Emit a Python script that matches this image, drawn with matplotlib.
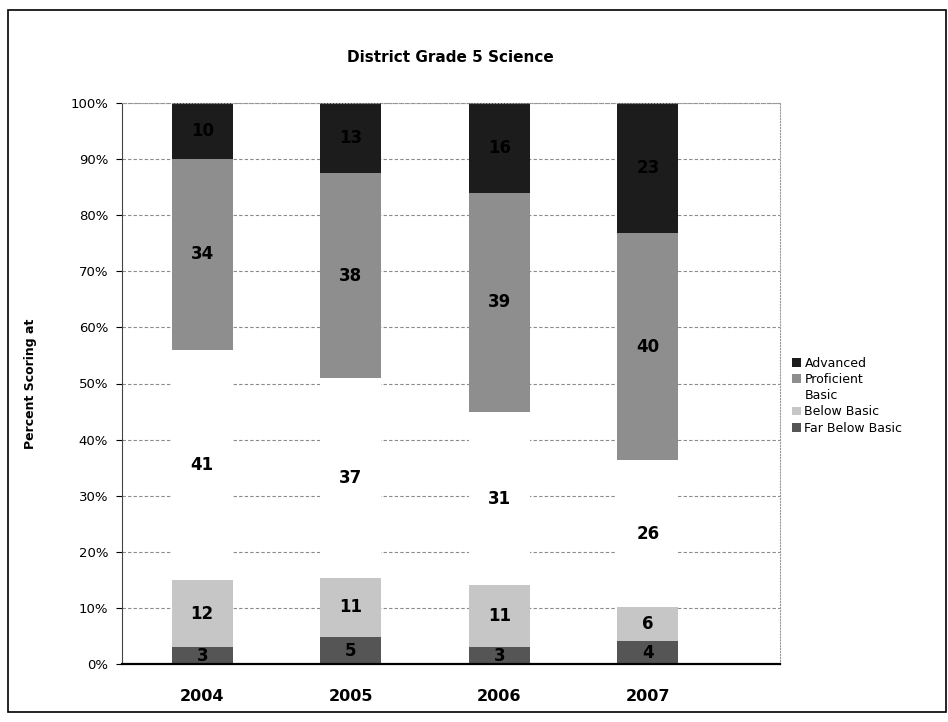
"""District Grade 5 Science: 100% stacked columns of performance levels by year."""
import matplotlib.pyplot as plt
import numpy as np
from matplotlib.patches import Rectangle

years = ["2004", "2005", "2006", "2007"]
levels = ["Far Below Basic", "Below Basic", "Basic", "Proficient", "Advanced"]
far_below_basic = [3, 5, 3, 4]
below_basic = [12, 11, 11, 6]
basic = [41, 37, 31, 26]
proficient = [34, 38, 39, 40]
advanced = [10, 13, 16, 23]
colors = ["#555555", "#c6c6c6", "#ffffff", "#8e8e8e", "#1c1c1c"]

series = np.array([far_below_basic, below_basic, basic, proficient, advanced], dtype=float)
shares = series / series.sum(axis=0) * 100

plt.rcParams['font.family'] = ['DejaVu Sans']
fig = plt.figure(figsize=(9.48, 7.22), dpi=100)
ax = fig.add_axes([122 / 948, 1 - 664 / 722, 658 / 948, 561 / 722])

x = np.arange(len(years))
bottom = np.zeros(len(years))
for i, name in enumerate(levels):
    ax.bar(x, shares[i], 0.41, bottom=bottom, color=colors[i], label=name,
           edgecolor="none", zorder=2)
    for j in range(len(years)):
        ax.text(x[j], bottom[j] + shares[i][j] / 2, "%d" % series[i][j],
                ha="center", va="center", fontsize=12, fontweight="bold",
                color="black", zorder=3)
    bottom += shares[i]

ax.set_xlim(-0.54, 3.89)
ax.set_ylim(0, 100)
ax.set_yticks(np.arange(0, 101, 10))
ax.set_yticklabels(["%d%%" % v for v in range(0, 101, 10)], fontsize=9.5)
ax.set_xticks(x)
ax.set_xticklabels(years, fontsize=11.5, fontweight="bold")
ax.tick_params(axis="x", length=0, pad=18)
ax.tick_params(axis="y", length=4, direction="out", pad=6)
ax.yaxis.grid(True, color="#8a8a8a", linestyle=(0, (3, 2)), linewidth=0.8, zorder=0)

for side in ["top", "right"]:
    ax.spines[side].set_color("#999999")
    ax.spines[side].set_linestyle(":")
ax.spines["left"].set_color("#444444")
ax.spines["bottom"].set_color("black")
ax.spines["bottom"].set_linewidth(1.6)

ax.set_ylabel("Percent Scoring at", fontsize=9, fontweight="bold", labelpad=24)
fig.text(450 / 948, 1 - 58 / 722, "District Grade 5 Science", ha="center",
         va="center", fontsize=11, fontweight="bold")

handles, labels = ax.get_legend_handles_labels()
leg = fig.legend(handles[::-1], labels[::-1], loc="upper left",
                 bbox_to_anchor=(787 / 948, 1 - 352 / 722), frameon=False,
                 fontsize=9, handlelength=0.7, handleheight=0.7,
                 handletextpad=0.3, labelspacing=0.25, borderaxespad=0)

# frame around the whole chart
fig.patches.append(Rectangle((8 / 948, 10 / 722), 938 / 948, 702 / 722,
                             transform=fig.transFigure, fill=False,
                             edgecolor="black", linewidth=1.2))

fig.savefig("out.png", dpi=100)
